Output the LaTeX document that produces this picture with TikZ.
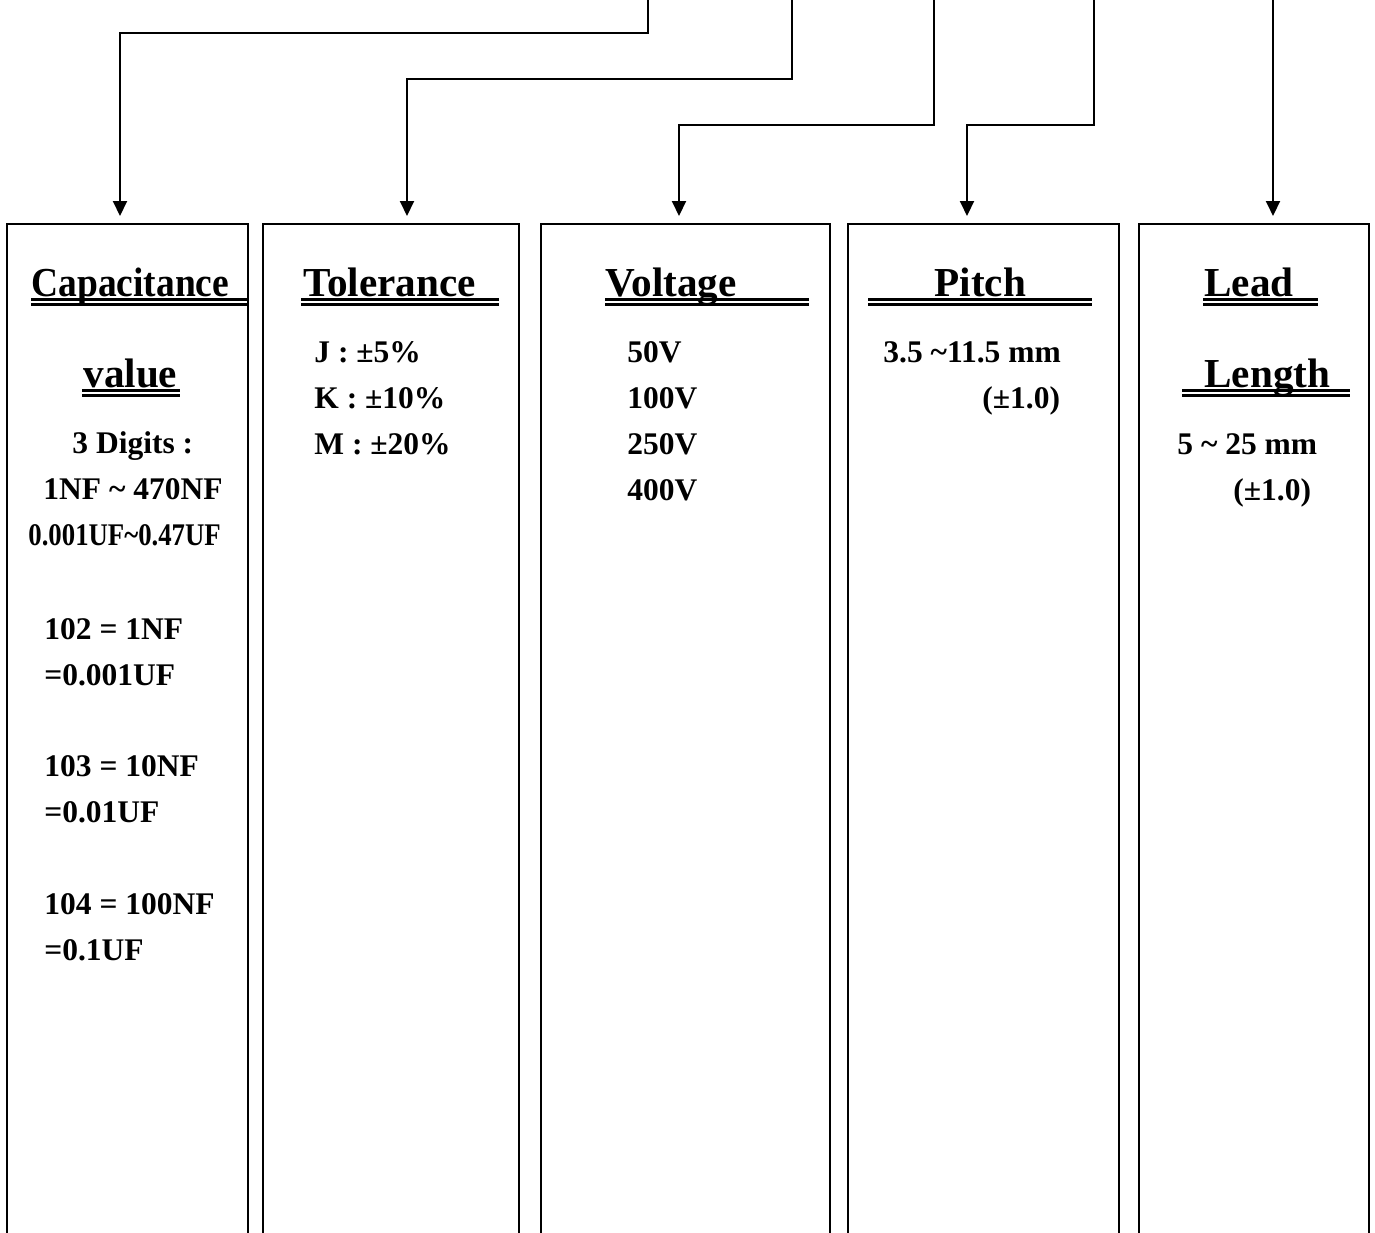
\documentclass[tikz,border=0pt]{standalone}
\usepackage{fontspec}
\setmainfont{Liberation Serif}
\usetikzlibrary{arrows.meta}

\begin{document}
\begin{tikzpicture}[
      x=0.5pt, y=-0.5pt,
      col/.style={draw, line width=1pt, minimum height=518pt, inner sep=0pt},
      feed/.style={line width=1pt, -{Triangle[width=7pt,length=7.5pt]}, shorten >=3.5pt},
      head/.style={anchor=base west, inner sep=0pt, font=\fontsize{20.6}{24}\selectfont\bfseries},
      body/.style={anchor=base west, inner sep=0pt, font=\fontsize{15.75}{19}\selectfont\bfseries},
      uline/.style={line width=1.3pt}
    ]
    \useasboundingbox (0,0) rectangle (1375,1232);
    \clip (0,0) rectangle (1375,1232);

    % Columns (open at the bottom)
    \node[col, minimum width=120.5pt] (cap)   at (127.5,742) {};
    \node[col, minimum width=128pt]   (tol)   at (391,742)   {};
    \node[col, minimum width=144.5pt] (volt)  at (685.5,742) {};
    \node[col, minimum width=135.5pt] (pitch) at (983.5,742) {};
    \node[col, minimum width=115pt]   (lead)  at (1254,742)  {};

    % Feeds from the top
    \coordinate (s1) at (648,-5);
    \coordinate (s2) at (792,-5);
    \coordinate (s3) at (934,-5);
    \coordinate (s4) at (1094,-5);
    \coordinate (s5) at (1273,-5);
    \draw[feed] (s1) -- (648,33)  -| ([xshift=-3.75pt]cap.north);
    \draw[feed] (s2) -- (792,79)  -| ([xshift=8pt]tol.north);
    \draw[feed] (s3) -- (934,125) -| ([xshift=-3.25pt]volt.north);
    \draw[feed] (s4) -- (1094,125) -| ([xshift=-8.25pt]pitch.north);
    \draw[feed] (s5) -- ([xshift=9.5pt]lead.north);

    % Headings
    \node[head] (hcap)  at (31,296)   {\scalebox{0.91}[1]{Capacitance}};
    \node[head] (hval)  at (83,387)   {value};
    \node[head] (htol)  at (303,296)  {Tolerance};
    \node[head] (hvolt) at (605,296)  {Voltage};
    \node[head] (hpit)  at (934,296)  {Pitch};
    \node[head] (hlead) at (1204,296) {Lead};
    \node[head] (hlen)  at (1204,387) {Length};
    \foreach \xa/\xb/\yb in {31/247/296, 82/180/387, 301/499/296, 605/809/296,
                             868/1092/296, 1203/1318/296, 1182/1350/387}
    {
      \draw[uline] (\xa,\yb+3.5) -- (\xb,\yb+3.5);
      \draw[uline] (\xa,\yb+8.5) -- (\xb,\yb+8.5);
    }

    % Capacitance value
    \node[body] (c1) at (72,453)  {3 Digits :};
    \node[body] (c2) at (43,499)  {1NF \char`\~{} 470NF};
    \node[body] (c3) at (28,545)  {\scalebox{0.85}[1]{0.001UF\char`\~0.47UF}};
    \node[body] (c4) at (44,639)  {102 = 1NF};
    \node[body] (c5) at (44,685)  {=0.001UF};
    \node[body] (c6) at (44,776)  {103 = 10NF};
    \node[body] (c7) at (44,822)  {=0.01UF};
    \node[body] (c8) at (44,914)  {104 = 100NF};
    \node[body] (c9) at (44,960)  {=0.1UF};

    % Tolerance
    \node[body] (t1) at (314,362) {J : ±5\%};
    \node[body] (t2) at (314,408) {K : ±10\%};
    \node[body] (t3) at (314,454) {M : ±20\%};

    % Voltage
    \node[body] (v1) at (627,362) {50V};
    \node[body] (v2) at (627,408) {100V};
    \node[body] (v3) at (627,454) {250V};
    \node[body] (v4) at (627,500) {400V};

    % Pitch
    \node[body] (p1) at (883,362) {3.5 \char`\~11.5 mm};
    \node[body] (p2) at (982,408) {(±1.0)};

    % Lead length
    \node[body] (l1) at (1177,454) {5 \char`\~{} 25 mm};
    \node[body] (l2) at (1233,500) {(±1.0)};
  \end{tikzpicture}
\end{document}
